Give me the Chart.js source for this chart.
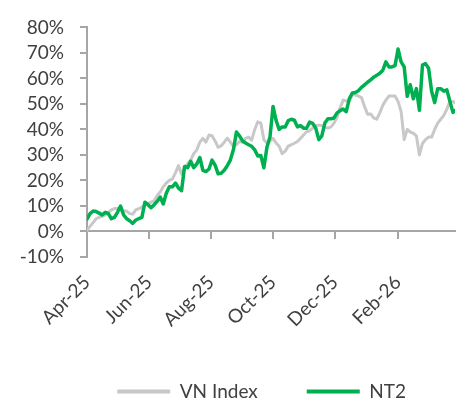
<!DOCTYPE html>
<html>
<head>
<meta charset="utf-8">
<script src="https://cdn.jsdelivr.net/npm/chart.js@4.4.1/dist/chart.umd.min.js"></script>
<style>
  html, body { margin: 0; padding: 0; background: #fff; }
</style>
</head>
<body>
<canvas id="perfChart" width="462" height="403"></canvas>
<script>
// Sample dates (every ~3 days, Apr-25 to Mar-26)
const dates = [
    '2025-04-01', '2025-04-04', '2025-04-07', '2025-04-10', '2025-04-13', '2025-04-16', '2025-04-19', '2025-04-22', '2025-04-25', '2025-04-28',
    '2025-05-01', '2025-05-04', '2025-05-07', '2025-05-10', '2025-05-13', '2025-05-16', '2025-05-19', '2025-05-22', '2025-05-25', '2025-05-28', '2025-05-31',
    '2025-06-03', '2025-06-06', '2025-06-09', '2025-06-12', '2025-06-15', '2025-06-18', '2025-06-21', '2025-06-24', '2025-06-27', '2025-06-30',
    '2025-07-03', '2025-07-06', '2025-07-09', '2025-07-12', '2025-07-15', '2025-07-18', '2025-07-21', '2025-07-24', '2025-07-27', '2025-07-30',
    '2025-08-02', '2025-08-05', '2025-08-08', '2025-08-11', '2025-08-14', '2025-08-17', '2025-08-20', '2025-08-23', '2025-08-26', '2025-08-29',
    '2025-09-01', '2025-09-04', '2025-09-07', '2025-09-10', '2025-09-13', '2025-09-16', '2025-09-19', '2025-09-22', '2025-09-25', '2025-09-28',
    '2025-10-01', '2025-10-04', '2025-10-07', '2025-10-10', '2025-10-13', '2025-10-16', '2025-10-19', '2025-10-22', '2025-10-25', '2025-10-28', '2025-10-31',
    '2025-11-03', '2025-11-06', '2025-11-09', '2025-11-12', '2025-11-15', '2025-11-18', '2025-11-21', '2025-11-24', '2025-11-27', '2025-11-30',
    '2025-12-03', '2025-12-06', '2025-12-09', '2025-12-12', '2025-12-15', '2025-12-18', '2025-12-21', '2025-12-24', '2025-12-27', '2025-12-30',
    '2026-01-02', '2026-01-05', '2026-01-08', '2026-01-11', '2026-01-14', '2026-01-17', '2026-01-20', '2026-01-23', '2026-01-26', '2026-01-29',
    '2026-02-01', '2026-02-04', '2026-02-07', '2026-02-10', '2026-02-13', '2026-02-16', '2026-02-19', '2026-02-22', '2026-02-25', '2026-02-28',
    '2026-03-03', '2026-03-06', '2026-03-09', '2026-03-12', '2026-03-15', '2026-03-18', '2026-03-21', '2026-03-24', '2026-03-27', '2026-03-29'
];

// Cumulative return, %
const vnIndex = [
    0.5, 2, 3.5, 5, 5.5, 6, 6.5, 7.5, 8.5, 9,
    9, 8.5, 8, 8, 7, 6.8, 8.5, 9, 9.5, 10.5, 10.8,
    11.5, 12, 14, 15.5, 17.5, 19, 20, 20.5, 23, 25.8,
    22.5, 25, 26.5, 28, 30.5, 32, 35, 36.5, 35, 37.8,
    37.5, 35.5, 33, 33.6, 35, 36.6, 35, 33.4, 34, 35.3,
    35, 36.5, 37, 35.8, 40, 43, 42.5, 36, 34.7, 35.5,
    36.5, 34.7, 33.4, 30.5, 31.5, 33.5, 34, 34.6, 35.3, 36.5, 37.8,
    39.1, 39.5, 40.5, 41.5, 41.7, 41.5, 40.8, 40.5, 41, 42.5,
    44.8, 48.5, 51.5, 51.2, 51, 53.7, 53.5, 53.1, 52.5, 49,
    46, 46.1, 44.5, 44, 46.5, 49.5, 51.5, 53.1, 53.1, 53.1,
    51, 47, 36, 40, 39, 38.5, 37.5, 30, 34.5, 36,
    37, 37, 40, 42.5, 44, 45.5, 48, 51, 51, 50.5
];

const nt2 = [
    4.8, 7, 8, 7.8, 7.2, 6.5, 7.5, 7, 5, 5.5,
    7.5, 10, 6.5, 5, 4.2, 3.2, 4.5, 5, 5.5, 11.5, 10.5,
    9.3, 10.5, 11.8, 13.5, 10.8, 15, 17.5, 17.5, 19, 17,
    16, 25.5, 25, 27.5, 25, 26.5, 29, 24, 23.5, 24.5,
    28, 26, 22.6, 22.8, 24, 25.8, 28, 32, 39, 37.5,
    35.5, 34.7, 34, 33.4, 32, 29.6, 29.8, 25, 33, 37,
    49, 43.6, 40, 41, 41, 43.5, 44, 43.6, 41, 41.5, 40.5,
    40.5, 42.9, 42.4, 40.5, 36, 37.5, 42.5, 44.2, 44.2, 44.5,
    46.5, 47.4, 48, 47, 52, 54.3, 54.5, 55.2, 56.5, 57.5,
    58.5, 59.4, 60.5, 61.2, 62, 63.2, 66.5, 64.5, 64.5, 65,
    71.5, 66.5, 64.5, 53, 57.5, 52, 56, 47.5, 65.2, 65.8,
    64, 55, 50.5, 56, 56, 55, 55.5, 51, 46.7, 47.4
];

// X axis tick labels
const tickDates = ['2025-04-01', '2025-06-01', '2025-08-01', '2025-10-01', '2025-12-01', '2026-02-01'];
const tickLabels = ['Apr-25', 'Jun-25', 'Aug-25', 'Oct-25', 'Dec-25', 'Feb-26'];

const axisColor = '#a6a6a6';
const textColor = '#404040';

// days since the first date, used as x value on a linear scale
const dayOf = s => Math.round((Date.parse(s) - Date.parse(dates[0])) / 86400000);
const tickDays = tickDates.map(dayOf);
const xMax = dayOf(dates[dates.length - 1]);

const toPoints = values => values.map((v, i) => ({ x: dayOf(dates[i]), y: v }));
const setMonthTicks = scale => { scale.ticks = tickDays.map(v => ({ value: v })); };

Chart.defaults.font.family = "Lato, 'Noto Sans', sans-serif";
Chart.defaults.font.size = 19;
Chart.defaults.color = textColor;

const ctx = document.getElementById('perfChart').getContext('2d');
const perfChart = new Chart(ctx, {
    type: 'line',
    data: {
        datasets: [{
            label: 'VN Index',
            data: toPoints(vnIndex),
            borderColor: '#c8c8c8',
            backgroundColor: '#c8c8c8',
            borderWidth: 3,
            order: 1
        }, {
            label: 'NT2',
            data: toPoints(nt2),
            borderColor: '#00b050',
            backgroundColor: '#00b050',
            borderWidth: 3.5,
            order: 0 // drawn on top of the index
        }]
    },
    options: {
        responsive: false,
        animation: false,
        parsing: false,
        elements: {
            point: { radius: 0 },
            line: { tension: 0, borderJoinStyle: 'round', borderCapStyle: 'round' }
        },
        layout: {
            padding: { top: 21, left: 8, right: 7, bottom: -8 }
        },
        scales: {
            x: {
                type: 'linear',
                min: 0,
                max: xMax,
                afterBuildTicks: setMonthTicks,
                afterFit: scale => {
                    scale.height = 76;
                    scale.paddingLeft = 0;
                    scale.paddingRight = 0;
                },
                border: { display: false },
                grid: { display: false, drawTicks: false },
                ticks: {
                    autoSkip: false,
                    minRotation: 45,
                    maxRotation: 45,
                    padding: 14,
                    callback: value => tickLabels[tickDays.indexOf(value)]
                }
            },
            // the axis line that crosses at 0%
            xZero: {
                type: 'linear',
                axis: 'x',
                position: { y: 0 },
                min: 0,
                max: xMax,
                afterBuildTicks: setMonthTicks,
                ticks: { display: false },
                grid: { drawOnChartArea: false, tickLength: 7, color: axisColor, lineWidth: 2 },
                border: { color: axisColor, width: 2 }
            },
            y: {
                min: -10,
                max: 80,
                afterFit: scale => { scale.width = 79; },
                ticks: {
                    stepSize: 10,
                    autoSkip: false,
                    padding: 16,
                    callback: value => value + '%'
                },
                grid: { drawOnChartArea: false, tickLength: 7, color: axisColor, lineWidth: 2 },
                border: { color: axisColor, width: 2 }
            }
        },
        plugins: {
            tooltip: { enabled: false },
            legend: {
                position: 'bottom',
                align: 'end',
                labels: {
                    boxWidth: 53,
                    boxHeight: 4,
                    padding: 49,
                    color: textColor,
                    sort: (a, b) => a.datasetIndex - b.datasetIndex,
                    generateLabels: chart => Chart.defaults.plugins.legend.labels.generateLabels(chart)
                        .map(item => ({ ...item, lineWidth: 0 }))
                }
            }
        }
    }
});
</script>
</body>
</html>
